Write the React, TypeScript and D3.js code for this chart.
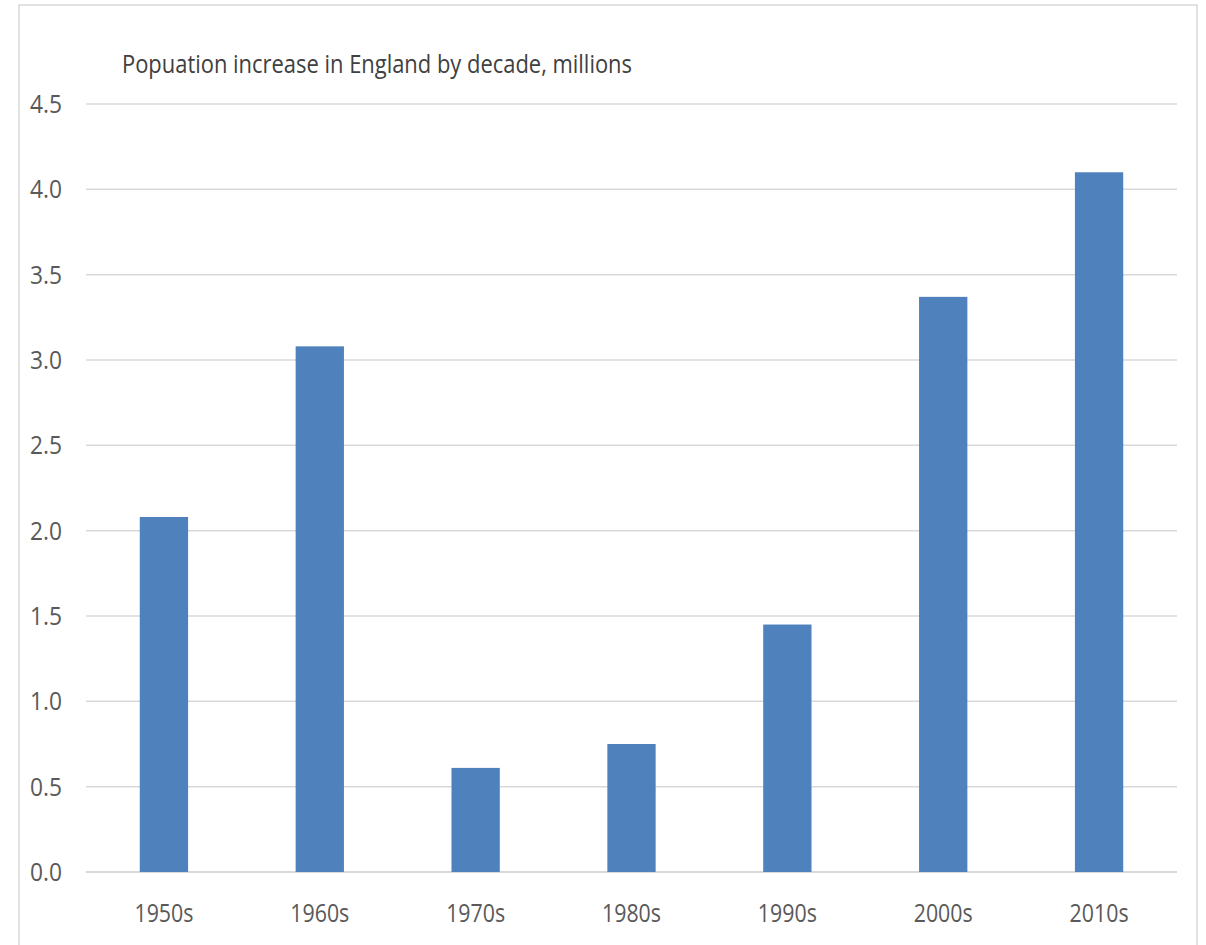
import React from "react";
import * as d3 from "d3";

// Population increase in England by decade (millions)
const decades: string[] = ["1950s", "1960s", "1970s", "1980s", "1990s", "2000s", "2010s"];
const increases: number[] = [2.08, 3.08, 0.61, 0.75, 1.45, 3.37, 4.1];
const yTicks: number[] = [0, 0.5, 1, 1.5, 2, 2.5, 3, 3.5, 4, 4.5];
const chartTitle = "Popuation increase in England by decade, millions";

const W = 1206;
const H = 945;
const plot = { left: 86, right: 1177, top: 104, bottom: 872 };
const FONT = "'Open Sans', 'Noto Sans', sans-serif";

export default function App() {
  const x = d3
    .scaleBand<string>()
    .domain(decades)
    .range([plot.left, plot.right])
    .paddingInner(0.69)
    .paddingOuter(0.345);
  const y = d3.scaleLinear().domain([0, 4.5]).range([plot.bottom, plot.top]);
  const fmt = d3.format(".1f");

  return (
    <svg
      width={W}
      height={H}
      viewBox={`0 0 ${W} ${H}`}
      style={{ position: "absolute", left: 0, top: 0, background: "#fff" }}
    >
      <rect x={0} y={0} width={W} height={H} fill="#fff" />
      {/* chart frame */}
      <rect x={19} y={5} width={1178} height={960} fill="none" stroke="#d9d9d9" strokeWidth={1.5} />

      {/* title */}
      <text
        x={122}
        y={73}
        fontFamily={FONT}
        fontSize={25}
        fill="#404040"
        textLength={510}
        lengthAdjust="spacingAndGlyphs"
      >
        {chartTitle}
      </text>

      {/* gridlines and y tick labels */}
      {yTicks.map((t) => (
        <g key={t}>
          <line
            x1={plot.left}
            x2={plot.right}
            y1={y(t)}
            y2={y(t)}
            stroke="#d9d9d9"
            strokeWidth={t === 0 ? 2 : 1.5}
          />
          <text
            x={62}
            y={y(t) + 9}
            textAnchor="end"
            fontFamily={FONT}
            fontSize={25}
            fill="#595959"
            textLength={32}
            lengthAdjust="spacingAndGlyphs"
          >
            {fmt(t)}
          </text>
        </g>
      ))}

      {/* bars */}
      {decades.map((d, i) => (
        <rect
          key={d}
          x={x(d)}
          y={y(increases[i])}
          width={x.bandwidth()}
          height={y(0) - y(increases[i])}
          fill="#4f81bd"
        />
      ))}

      {/* x category labels */}
      {decades.map((d) => (
        <text
          key={d}
          x={(x(d) as number) + x.bandwidth() / 2}
          y={922}
          textAnchor="middle"
          fontFamily={FONT}
          fontSize={25}
          fill="#595959"
          textLength={59}
          lengthAdjust="spacingAndGlyphs"
        >
          {d}
        </text>
      ))}
    </svg>
  );
}
